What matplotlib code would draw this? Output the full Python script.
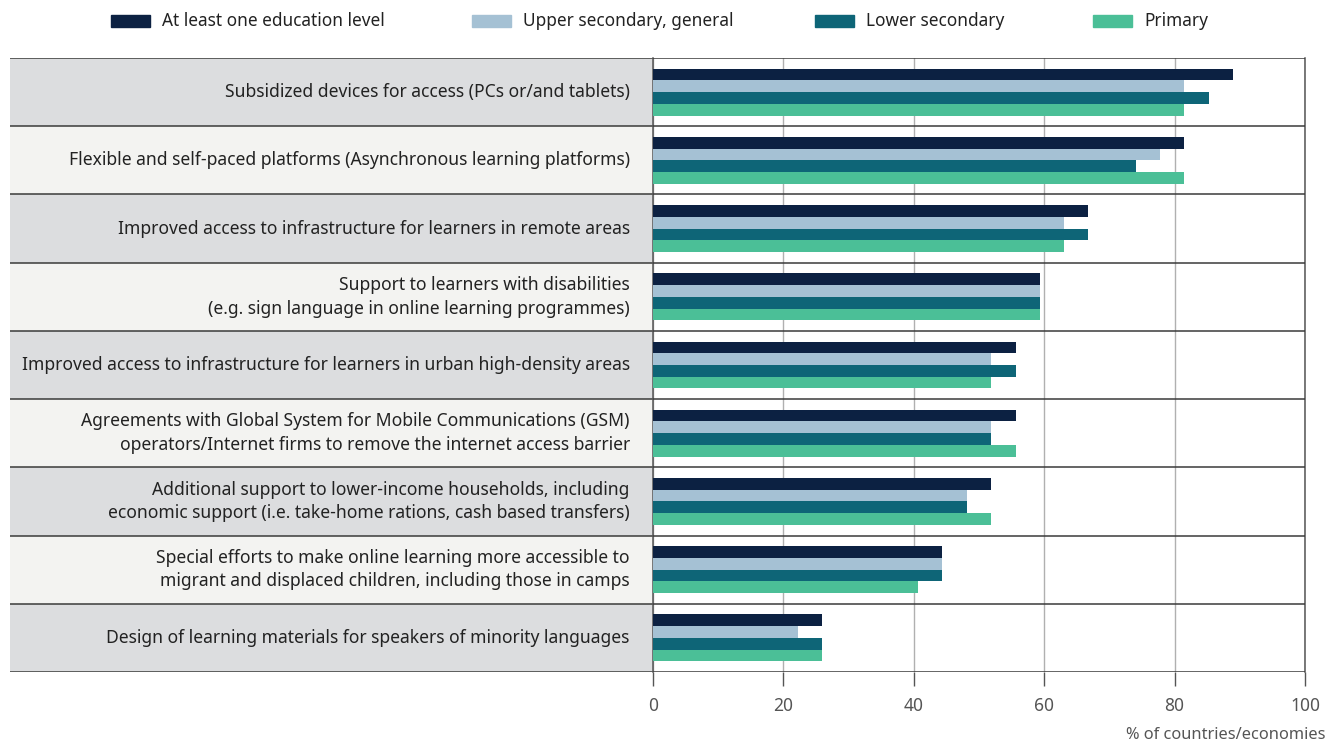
import matplotlib.pyplot as plt
import numpy as np

plt.rcParams['font.family'] = ['Noto Sans', 'DejaVu Sans']

measures = [
    "Subsidized devices for access (PCs or/and tablets)",
    "Flexible and self-paced platforms (Asynchronous learning platforms)",
    "Improved access to infrastructure for learners in remote areas",
    "Support to learners with disabilities\n(e.g. sign language in online learning programmes)",
    "Improved access to infrastructure for learners in urban high-density areas",
    "Agreements with Global System for Mobile Communications (GSM)\noperators/Internet firms to remove the internet access barrier",
    "Additional support to lower-income households, including\neconomic support (i.e. take-home rations, cash based transfers)",
    "Special efforts to make online learning more accessible to\nmigrant and displaced children, including those in camps",
    "Design of learning materials for speakers of minority languages",
]

at_least_one = [88.9, 81.5, 66.7, 59.3, 55.6, 55.6, 51.9, 44.4, 25.9]
upper_secondary = [81.5, 77.8, 63.0, 59.3, 51.9, 51.9, 48.1, 44.4, 22.2]
lower_secondary = [85.2, 74.1, 66.7, 59.3, 55.6, 51.9, 48.1, 44.4, 25.9]
primary = [81.5, 81.5, 63.0, 59.3, 51.9, 55.6, 51.9, 40.7, 25.9]

series_names = ["At least one education level", "Upper secondary, general",
                "Lower secondary", "Primary"]
series_colors = ["#0c2142", "#a5c1d4", "#0e6577", "#4bbf97"]

fig = plt.figure(figsize=(13.43, 7.44), dpi=100)
W, H = 1343, 744
top_px, bot_px = 58, 672
mid_px, left_px, right_px = 653, 10, 1305
bottom = (H - bot_px) / H
height = (bot_px - top_px) / H

ax_lab = fig.add_axes([left_px / W, bottom, (mid_px - left_px) / W, height])
ax = fig.add_axes([mid_px / W, bottom, (right_px - mid_px) / W, height])

n = len(measures)
y = np.arange(n)
line_col = "#3a3a3a"

# label column with banded rows
ax_lab.set_xlim(0, 1)
ax_lab.set_ylim(n - 0.5, -0.5)
for i, label in enumerate(measures):
    band = "#dcdddf" if i % 2 == 0 else "#f3f3f1"
    ax_lab.axhspan(i - 0.5, i + 0.5, color=band, lw=0)
    ax_lab.text(0.964, i, label, ha="right", va="center", fontsize=12.6,
                color="#222222", linespacing=1.4)
for b in np.arange(-0.5, n, 1):
    ax_lab.axhline(b, color=line_col, lw=1.1)
ax_lab.axis("off")

# grouped horizontal bars
bh = 0.172
groups = [at_least_one, upper_secondary, lower_secondary, primary]
for k, (vals, name, col) in enumerate(zip(groups, series_names, series_colors)):
    ax.barh(y + (k - 1.5) * bh, vals, height=bh, color=col, label=name, zorder=3)

ax.set_xlim(0, 100)
ax.set_ylim(n - 0.5, -0.5)
ax.set_yticks([])
ax.set_xticks(range(0, 101, 20))
ax.grid(axis="x", color="#b0b0b0", lw=1, zorder=0)
for b in np.arange(-0.5, n, 1):
    ax.axhline(b, color=line_col, lw=1.1, zorder=4)
for side in ["top", "bottom"]:
    ax.spines[side].set_visible(False)
for side in ["left", "right"]:
    ax.spines[side].set_color("#555555")
    ax.spines[side].set_linewidth(1.1)
ax.tick_params(axis="x", length=10, width=1, color="#555555",
               labelsize=12.5, labelcolor="#555555", pad=8)

fig.text(1325 / W, 1 - 735 / H, "% of countries/economies", ha="right",
         va="center", fontsize=11.8, color="#555555")

# legend along the top
leg_x = [111, 472, 815, 1093]
for x0, name, col in zip(leg_x, series_names, series_colors):
    fig.patches.append(plt.Rectangle((x0 / W, 1 - 27 / H), 39 / W, 12 / H,
                                     color=col, transform=fig.transFigure))
    fig.text((x0 + 51) / W, 1 - 21 / H, name, ha="left", va="center",
             fontsize=12.4, color="#222222")

fig.savefig("out.png", dpi=100)
